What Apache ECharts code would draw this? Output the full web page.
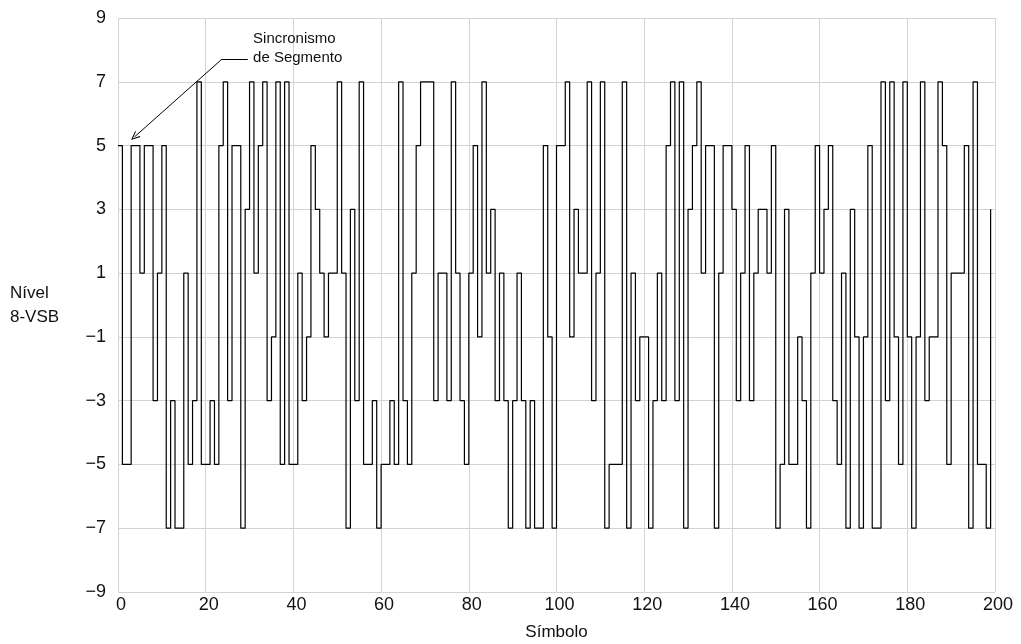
<!DOCTYPE html>
<html>
<head>
<meta charset="utf-8">
<script src="https://cdn.jsdelivr.net/npm/echarts@6/dist/echarts.min.js"></script>
<style>
html, body { margin: 0; padding: 0; background: #fff; }
#chart { width: 1021px; height: 644px; }
</style>
</head>
<body>
<div id="chart"></div>
<script>
// nivel 8-VSB de cada simbolo (0..199)
const nivel = [
  5, -5, -5, 5, 5, 1, 5, 5, -3, 1,
  5, -7, -3, -7, -7, 1, -5, -3, 7, -5,
  -5, -3, -5, 5, 7, -3, 5, 5, -7, 3,
  7, 1, 5, 7, -3, -1, 7, -5, 7, -5,
  -5, 1, -3, -1, 5, 3, 1, -1, 1, 1,
  7, 1, -7, 3, -3, 7, -5, -5, -3, -7,
  -5, -5, -3, -5, 7, -3, -5, 1, 5, 7,
  7, 7, -3, 1, 1, -3, 7, 1, -3, -5,
  1, 5, -1, 7, 1, 3, -3, 1, -3, -7,
  -3, 1, -3, -7, -3, -7, -7, 5, -1, -7,
  5, 5, 7, -1, 3, 1, 1, 7, -3, 1,
  7, -7, -5, -5, -5, 7, -7, 1, -3, -1,
  -1, -7, -3, 1, -3, 5, 7, -3, 7, -7,
  3, 5, 7, 1, 5, 5, -7, 1, 5, 5,
  3, -3, 1, 5, -3, 1, 3, 3, 1, 5,
  -7, -5, 3, -5, -5, -1, -3, -7, 1, 5,
  1, 3, 5, -3, -5, 1, -7, 3, -1, -7,
  -1, 5, -7, -7, 7, -3, 7, -1, -5, 7,
  -1, -7, -1, 7, -3, -1, -1, 7, 5, -5,
  1, 1, 1, 5, -7, 7, -5, -5, -7, 3
];

const textoSinc = 'Sincronismo\nde Segmento';

// sinal de menos tipografico nos rotulos negativos
function rotuloY(v) {
  return v < 0 ? '\u2212' + Math.abs(v) : String(v);
}

let myChart = echarts.init(document.getElementById('chart'));

let option = {
  animation: false,
  textStyle: { fontFamily: 'Liberation Sans, Arial, sans-serif', color: '#111' },
  grid: { left: 118, right: 26, top: 18, bottom: 52, containLabel: false, outerBoundsMode: 'none' },
  xAxis: {
    type: 'value',
    min: 0,
    max: 200,
    interval: 20,
    name: 'Símbolo',
    nameLocation: 'middle',
    nameGap: 32,
    nameTextStyle: { fontSize: 17, color: '#111' },
    axisLine: { show: false },
    axisTick: { show: false },
    axisLabel: { fontSize: 18, color: '#111', margin: 4, padding: [0, 0, 0, 6] },
    splitLine: { show: true, lineStyle: { color: '#d3d3d3', width: 1 } }
  },
  yAxis: {
    type: 'value',
    min: -9,
    max: 9,
    interval: 2,
    name: 'Nível\n8-VSB',
    nameLocation: 'middle',
    nameRotate: 0,
    nameGap: 108,
    nameTextStyle: {
      fontSize: 17, color: '#111', align: 'left', verticalAlign: 'middle',
      lineHeight: 24, padding: [0, 0, 18, 0]
    },
    axisLine: { show: false },
    axisTick: { show: false },
    axisLabel: { fontSize: 18, color: '#111', margin: 12, formatter: rotuloY },
    splitLine: { show: true, lineStyle: { color: '#d3d3d3', width: 1 } }
  },
  series: [
    {
      type: 'line',
      step: 'end',
      data: nivel.map((v, i) => [i, v]),
      showSymbol: false,
      symbol: 'none',
      lineStyle: { color: '#000', width: 1.2 },
      silent: true,
      // seta apontando para o sincronismo de segmento
      markLine: {
        silent: true,
        animation: false,
        symbol: ['none', 'none'],
        lineStyle: { color: '#000', width: 1, type: 'solid' },
        label: { show: false },
        emphasis: { disabled: true },
        data: [
          [{ coord: [29.6, 7.71] }, { coord: [23.7, 7.71] }],
          [
            { coord: [23.7, 7.71] },
            {
              coord: [3.75, 5.27],
              symbol: 'path://M5,0L10,10L8.6,10L5,2.6L1.4,10L0,10Z',
              symbolSize: [8, 9]
            }
          ]
        ]
      },
      markPoint: {
        silent: true,
        animation: false,
        symbol: 'circle',
        symbolSize: 0,
        label: {
          show: true,
          position: 'right',
          distance: 0,
          formatter: textoSinc,
          align: 'left',
          fontSize: 15,
          lineHeight: 19,
          color: '#111'
        },
        data: [{ coord: [30.8, 8.04] }]
      }
    }
  ]
};

myChart.setOption(option);
</script>
</body>
</html>
